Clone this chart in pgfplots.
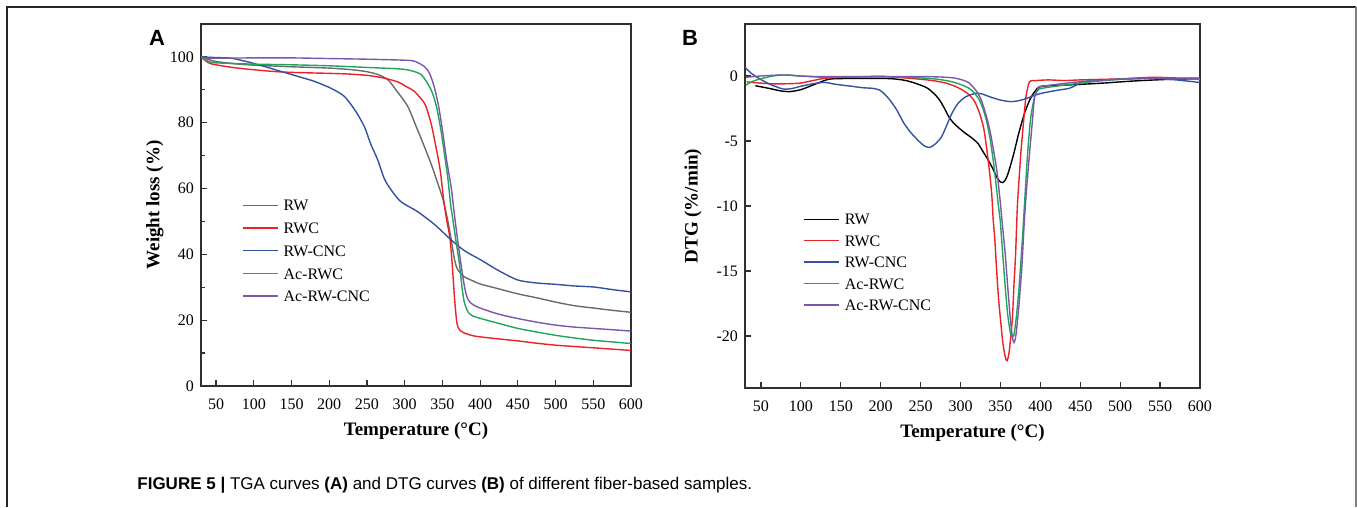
\documentclass[border=0pt]{standalone}
\usepackage{pgfplots}
\pgfplotsset{compat=1.18}
\usepackage{fontspec}
\setmainfont{Liberation Serif}
\newfontfamily\capfont{Liberation Sans}
\definecolor{cgray}{HTML}{6B6B6B}
\definecolor{cred}{HTML}{EC2027}
\definecolor{cblue}{HTML}{3452A4}
\definecolor{cgreen}{HTML}{1FA55B}
\definecolor{cpurple}{HTML}{7A57A8}
\definecolor{caxis}{HTML}{303030}
\pgfplotsset{
  common/.style={
    scale only axis,
    xmin=30, xmax=600,
    xtick={50,100,...,600},
    tick align=inside,
    xtick pos=lower, ytick pos=left,
    major tick length=3pt, minor tick length=2pt,
    axis line style={caxis, line width=0.7pt},
    every tick/.style={caxis, line width=0.6pt},
    tick label style={font=\fontsize{8}{9}\selectfont},
    x tick label style={yshift=-3pt},
    /pgf/number format/assume math mode=true,
    label style={font=\bfseries\fontsize{9.5}{11}\selectfont},
    xlabel={Temperature (°C)},
    x label style={at={(axis description cs:0.5,-0.124)}, anchor=center},
    legend cell align=left,
    legend image code/.code={\draw[#1, line width=0.7pt] (0pt,0pt) -- (17.5pt,0pt);},
    every axis plot/.append style={line width=0.7pt, smooth, tension=0.45},
  }
}
\begin{document}
\begin{tikzpicture}
\path (0,0) rectangle (678.5pt,-253.5pt);
\draw[line width=0.9pt, black!85] (3.5pt,-253.5pt) -- (3.5pt,-3.5pt) -- (678pt,-3.5pt);
\draw[line width=0.9pt, black!50] (678pt,-3.5pt) -- (678pt,-253.5pt);
\node[font=\capfont\bfseries\fontsize{11}{12}\selectfont] at (78.5pt,-19pt) {A};
\node[font=\capfont\bfseries\fontsize{11}{12}\selectfont] at (345pt,-19pt) {B};
\node[anchor=base west, inner sep=0pt, font=\capfont\fontsize{8.5}{10}\selectfont] at (68.5pt,-244.5pt)
  {\textbf{FIGURE 5 |} TGA curves \textbf{(A)} and DTG curves \textbf{(B)} of different fiber-based samples.};

% ---------------- Panel A ----------------
\begin{axis}[common,
  at={(100.5pt,-193pt)}, anchor=south west,
  width=215pt, height=181pt,
  ymin=0, ymax=110, ytick={0,20,...,100}, minor y tick num=1,
  ylabel={Weight loss (\%)},
  y label style={at={(axis description cs:-0.107,0.5)}, anchor=center},
  legend style={at={(axis description cs:0.0947,0.5155)}, anchor=north west,
    draw=none, fill=none, inner sep=0pt, row sep=5.75pt,
    font=\fontsize{8}{9}\selectfont,
    nodes={inner ysep=0pt, inner xsep=2.5pt, text height=5.6pt, text depth=0pt}},
]
\addplot[cgray] coordinates {
(30,100) (40,99.2) (50,98.6) (75,97.9) (100,97.5) (150,97) (200,96.6) (230,96.1)
(250,95.5) (265,94.6) (278,93) (290,89.5) (304,85) (315,79) (326,72.8) (335,67.5)
(344,61.5) (351,56.5) (357,50.4) (362,44) (366,38.5) (370,35.5) (379,33.2) (390,32)
(400,31) (425,29.5) (450,28) (475,26.8) (500,25.5) (525,24.4) (550,23.7) (575,23) (600,22.4)};
\addlegendentry{RW}
\addplot[cred] coordinates {
(30,100) (40,98.2) (50,97.6) (75,96.7) (100,96.1) (125,95.6) (150,95.3) (200,95)
(225,94.8) (250,94.4) (270,93.7) (291,92.4) (302,91) (313,89.5) (326,86) (331,83)
(336,78.8) (342,72) (347,65.7) (352,56) (356,50) (360,45) (363,37) (366,27) (369,19.5)
(372,17.3) (378,16.2) (390,15.3) (401,14.9) (425,14.3) (450,13.7) (475,13) (500,12.4)
(525,12) (550,11.6) (575,11.2) (600,10.8)};
\addlegendentry{RWC}
\addplot[cblue] coordinates {
(30,100) (40,99.9) (50,99.8) (65,99.7) (75,99.4) (90,98.6) (100,98) (114,97.1)
(130,96) (158,94.1) (180,92.6) (202,90.5) (220,88) (235,83.5) (246.6,78.8) (255,73.5)
(264.3,68.7) (273,63) (282,59.6) (295,56) (317,53) (340,49) (361.5,44.4) (380,41)
(401,38.3) (425,35) (450,32.2) (475,31.3) (500,30.9) (525,30.4) (550,30.1) (575,29.3) (600,28.6)};
\addlegendentry{RW-CNC}
\addplot[cgreen] coordinates {
(30,100) (40,98.6) (50,98.2) (75,98) (100,97.8) (150,97.6) (200,97.3) (250,96.8)
(290,96.4) (305,96) (322,94.6) (335,90) (342,85) (348,77.8) (353,70) (357,63.6)
(361,55) (364,50.4) (368,44) (372.5,37.3) (376,30) (379,25.5) (384,22.5) (390,21.3)
(401,20.5) (425,19) (450,17.5) (475,16.4) (500,15.4) (525,14.6) (550,13.9) (575,13.4) (600,12.9)};
\addlegendentry{Ac-RWC}
\addplot[cpurple] coordinates {
(30,100) (40,99.6) (50,99.6) (100,99.7) (150,99.7) (200,99.5) (250,99.3) (300,99)
(313,98.7) (326,97.1) (333,95) (339,91) (345,85) (350,77.8) (356,68) (361.5,60.6)
(366,52) (370.4,44) (374,38) (377.8,32.2) (381,28.3) (384.5,26.1) (390,24.8) (401,23.6)
(425,21.8) (450,20.5) (475,19.4) (500,18.5) (525,17.9) (550,17.5) (575,17.1) (600,16.7)};
\addlegendentry{Ac-RW-CNC}
\end{axis}

% ---------------- Panel B ----------------
\begin{axis}[common,
  at={(372.5pt,-194pt)}, anchor=south west,
  width=227.5pt, height=182pt,
  ymin=-24, ymax=4, ytick={-20,-15,...,0},
  ylabel={DTG (\%/min)},
  y label style={at={(axis description cs:-0.114,0.5)}, anchor=center},
  legend style={at={(axis description cs:0.1275,0.48)}, anchor=north west,
    draw=none, fill=none, inner sep=0pt, row sep=5.1pt,
    font=\fontsize{8}{9}\selectfont,
    nodes={inner ysep=0pt, inner xsep=2.5pt, text height=5.6pt, text depth=0pt}},
]
\addplot[black] coordinates {
(43,-0.75) (60,-0.95) (75,-1.15) (86,-1.2) (100,-1.05) (115,-0.7) (134,-0.26) (150,-0.2)
(172,-0.18) (200,-0.18) (216,-0.22) (230,-0.33) (243,-0.55) (259,-0.95) (272,-1.7)
(280,-2.5) (285,-3.1) (291,-3.6) (298,-4.0) (306,-4.4) (315,-4.8) (322,-5.2) (328,-5.8)
(335,-6.5) (341,-7.2) (346,-7.85) (350,-8.15) (353,-8.2) (356,-8.0) (359,-7.6) (363,-6.8)
(367,-5.9) (373,-4.4) (380,-2.9) (387,-1.8) (393,-1.2) (401,-0.8) (432,-0.7) (475,-0.56)
(518,-0.38) (561,-0.26) (600,-0.22)};
\addlegendentry{RW}
\addplot[cred] coordinates {
(32,-0.45) (50,-0.55) (65,-0.6) (80,-0.6) (99,-0.55) (115,-0.35) (130,-0.18) (150,-0.1)
(180,-0.05) (200,-0.02) (220,-0.1) (237,-0.18) (255,-0.28) (268,-0.38) (282,-0.55)
(293.5,-0.8) (303,-1.1) (311,-1.46) (318,-2.0) (324,-2.9) (329,-4.0) (332.4,-5.4)
(336,-7.2) (339,-9.0) (341,-11.1) (343,-12.6) (345.3,-15) (347.5,-17) (349.7,-18.5)
(353,-20.5) (356,-21.6) (358.3,-21.9) (361,-21.2) (364.8,-18.8) (367,-16) (369,-13.7)
(371.2,-10.05) (373.5,-7.8) (375.5,-6) (379,-3.5) (382,-1.6) (386.4,-0.44) (392.8,-0.36)
(410,-0.3) (430,-0.35) (450,-0.3) (500,-0.22) (540,-0.1) (570,-0.15) (600,-0.15)};
\addlegendentry{RWC}
\addplot[cblue] coordinates {
(30,0.67) (38,0.2) (47.4,-0.18) (60,-0.6) (77.6,-1.0) (90,-0.95) (99,-0.8) (115,-0.6)
(129.4,-0.49) (140,-0.6) (151,-0.7) (165,-0.8) (177,-0.9) (190,-0.95) (198.5,-1.08)
(205,-1.4) (211.5,-1.85) (220,-2.6) (228.8,-3.6) (237,-4.3) (246,-4.9) (254,-5.35)
(261,-5.5) (268,-5.25) (276,-4.7) (282,-3.9) (289,-2.9) (297,-2.1) (306.5,-1.6)
(319.4,-1.33) (328,-1.4) (336.7,-1.6) (350,-1.85) (362.6,-1.97) (373,-1.9) (384,-1.7)
(392,-1.5) (401.5,-1.33) (412,-1.2) (423,-1.08) (436,-0.95) (445,-0.7) (453,-0.44)
(475,-0.32) (496,-0.26) (540,-0.18) (570,-0.3) (600,-0.5)};
\addlegendentry{RW-CNC}
\addplot[cgreen] coordinates {
(31,-0.7) (40,-0.4) (52,-0.18) (65,0.0) (77.6,0.08) (90,0.05) (99,0) (129,-0.1) (150,-0.08)
(200,-0.05) (230,-0.1) (259,-0.18) (275,-0.28) (289,-0.44) (300,-0.65) (310.8,-0.95)
(318,-1.35) (323.7,-1.85) (328,-2.5) (332.4,-3.4) (337,-4.8) (341,-6.5) (344.5,-8.3)
(347.5,-10) (349.7,-11.1) (353,-13.8) (356,-16.2) (359,-18.3) (362.6,-19.8) (365,-20)
(367,-19.9) (370,-18.5) (373.4,-16.2) (377.7,-12.4) (380.5,-9.5) (384,-6) (388,-3.2)
(392.8,-1.6) (397,-1.1) (401.5,-0.95) (430,-0.7) (475,-0.38) (518,-0.18) (560,-0.2) (600,-0.26)};
\addlegendentry{Ac-RWC}
\addplot[cpurple] coordinates {
(31,-0.1) (50,0.0) (77.6,0.08) (100,0.0) (129,-0.05) (200,-0.05) (259,-0.05) (289,-0.13)
(302,-0.3) (310,-0.5) (315,-0.8) (321,-1.25) (326,-1.85) (331,-2.8) (336.7,-4.15)
(341,-5.6) (345.3,-7.2) (349,-9.2) (351.8,-11) (356,-13.7) (359.5,-16.5) (362.6,-18.8)
(365,-20.1) (367,-20.5) (369.5,-19.9) (373.4,-17.5) (377,-14.5) (380,-11.1) (383,-8.5)
(386.4,-6) (390,-3.5) (392.8,-1.6) (397,-1.0) (401.5,-0.8) (450,-0.44) (500,-0.25)
(540,-0.18) (600,-0.18)};
\addlegendentry{Ac-RW-CNC}
\end{axis}
\end{tikzpicture}
\end{document}
